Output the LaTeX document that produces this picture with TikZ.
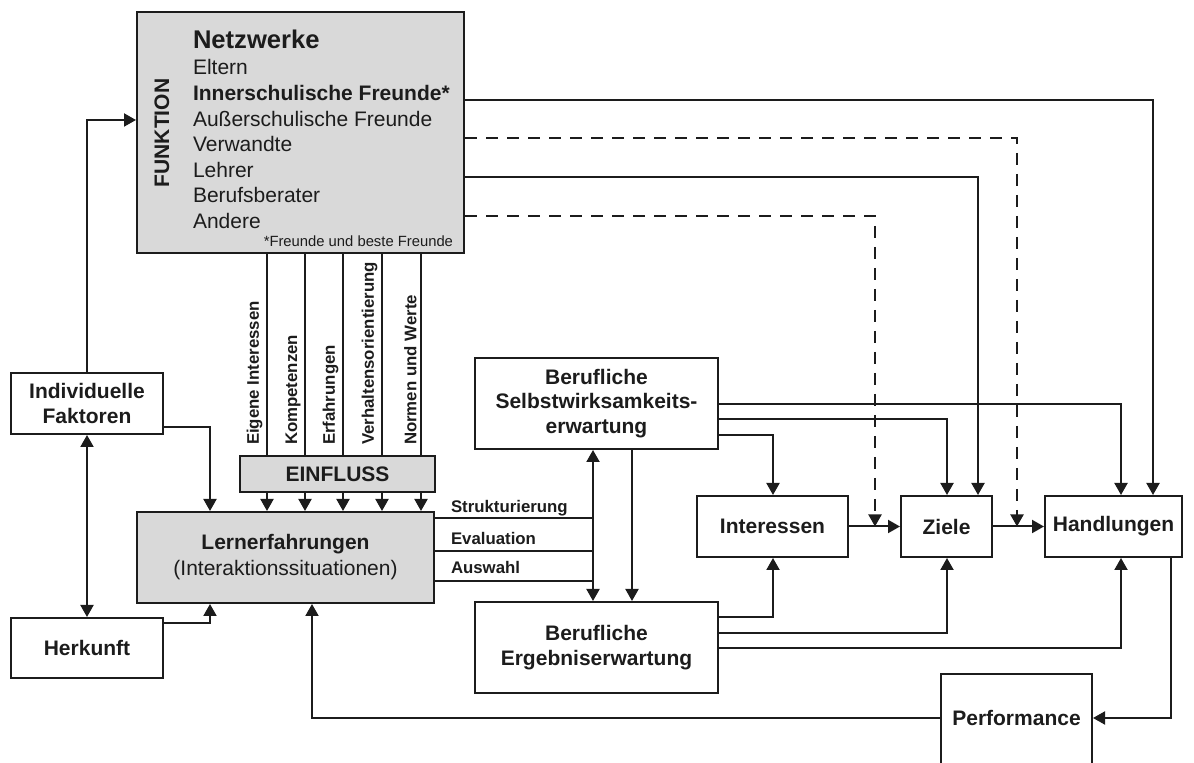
\documentclass[tikz,border=0pt]{standalone}
\usepackage{fontspec}
\setmainfont{Liberation Sans}
\usetikzlibrary{arrows.meta}
\definecolor{boxgray}{RGB}{217,217,217}
\definecolor{ink}{RGB}{28,28,28}
\newcommand\myB{\fontsize{10.5}{12.5}\selectfont\bfseries}
\newcommand\myR{\fontsize{10.5}{12.5}\selectfont}
\newcommand\myH{\fontsize{12.8}{15}\selectfont\bfseries}
\newcommand\myS{\fontsize{7.4}{9}\selectfont}
\newcommand\myV{\fontsize{8.4}{10}\selectfont\bfseries}
\begin{document}
\begin{tikzpicture}[x=0.5pt,y=-0.5pt,line width=1pt,draw=ink,text=ink,
  box/.style={draw,rectangle,inner sep=0pt,align=center,font=\myB},
  gbox/.style={box,fill=boxgray},
  lst/.style={anchor=base west,inner sep=0pt,font=\myR},
  arr/.style={-{Triangle[length=6pt,width=6.5pt]}},
  dblarr/.style={{Triangle[length=6pt,width=6.5pt]}-{Triangle[length=6pt,width=6.5pt]}},
  dsh/.style={dash pattern=on 6pt off 4.5pt}]
\useasboundingbox (0,0) rectangle (1194,763);
\clip (0,0) rectangle (1194,763);

% Netzwerke box
\node[gbox,minimum width=163.5pt,minimum height=120.5pt] (Netz) at (300.5,132.5) {};
\node[rotate=90,font=\myB,inner sep=0pt] (funk) at (162,133) {FUNKTION};
\node[anchor=base west,inner sep=0pt,font=\myH] (t0) at (192,49) {Netzwerke};
\node[lst] (t1) at (192,75) {Eltern};
\node[lst,font=\myB] (t2) at (192,101) {Innerschulische Freunde*};
\node[lst] (t3) at (192,126.5) {Außerschulische Freunde};
\node[lst] (t4) at (192,152) {Verwandte};
\node[lst] (t5) at (192,177.5) {Lehrer};
\node[lst] (t6) at (192,203) {Berufsberater};
\node[lst] (t7) at (192,228.5) {Andere};
\node[anchor=base east,inner sep=0pt,font=\myS] (fn) at (454,247) {*Freunde und beste Freunde};

% other boxes
\node[box,minimum width=76pt,minimum height=30.5pt] (Ind) at (87,403.5) {Individuelle\\Faktoren};
\node[box,minimum width=76pt,minimum height=30pt] (Herk) at (87,648) {Herkunft};
\node[gbox,minimum width=97.5pt,minimum height=18pt] (Einfl) at (337.5,474) {EINFLUSS};
\node[gbox,minimum width=148.5pt,minimum height=45.5pt,font=\fontsize{10.5}{13}\selectfont\bfseries] (Lern) at (285.5,557.5) {Lernerfahrungen\\{\mdseries (Interaktionssituationen)}};
\node[box,minimum width=121.5pt,minimum height=45.5pt,font=\fontsize{10.5}{12.25}\selectfont\bfseries] (Selb) at (596.5,403.5) {Berufliche\\Selbstwirksamkeits-\\erwartung};
\node[box,minimum width=121.5pt,minimum height=45.5pt] (Erg) at (596.5,647.5) {Berufliche\\Ergebniserwartung};
\node[box,minimum width=75.5pt,minimum height=30.5pt] (Int) at (772.5,526.5) {Interessen};
\node[box,minimum width=45.5pt,minimum height=30.5pt] (Ziele) at (946.5,526.5) {Ziele};
\node[box,minimum width=68.5pt,minimum height=30.5pt] (Hand) at (1113.5,526.5) {Handlungen};
\node[box,minimum width=75.5pt,minimum height=48pt] (Perf) at (1016.5,722) {};
\node[font=\myB,inner sep=0pt] (perfL) at (1016.5,718) {Performance};

% vertical labels
\foreach \x/\t in {267/Eigene Interessen,305/Kompetenzen,343/Erfahrungen,382/Verhaltensorientierung,421/Normen und Werte}{
  \node[rotate=90,anchor=south west,inner sep=0.5pt,font=\myV] (v\x) at (\x-2.5,447) {\t};
  \draw (Netz.south -| \x,0) -- (Einfl.north -| \x,0);
  \draw[arr] (Einfl.south -| \x,0) -- (Lern.north -| \x,0);
}

% left side connectors
\draw[arr] (Ind.north) |- (Netz.west |- 0,120);
\draw[dblarr] (Ind) -- (Herk);
\draw[arr] (Ind.east |- 0,427) -| (Lern.north -| 210,0);
\draw[arr] (Herk.east |- 0,623) -| (Lern.south -| 210,0);

% Lernerfahrungen to middle
\node[anchor=base west,inner sep=0pt,font=\myV] (ls) at (450,513) {Strukturierung};
\node[anchor=base west,inner sep=0pt,font=\myV] (le) at (450,545) {Evaluation};
\node[anchor=base west,inner sep=0pt,font=\myV] (la) at (450,574) {Auswahl};
\foreach \y in {518,551,581}{
  \draw (Lern.east |- 0,\y) -- (593,\y);
}
\draw[dblarr] (Selb.south -| 593,0) -- (Erg.north -| 593,0);
\draw[arr] (Selb.south -| 632,0) -- (Erg.north -| 632,0);

% Selbstwirksamkeit outputs
\draw[arr] (Selb.east |- 0,404) -| (Hand.north -| 1121,0);
\draw[arr] (Selb.east |- 0,419) -| (Ziele.north -| 947,0);
\draw[arr] (Selb.east |- 0,435) -| (Int.north -| 773,0);
% Ergebniserwartung outputs
\draw[arr] (Erg.east |- 0,617) -| (Int.south -| 773,0);
\draw[arr] (Erg.east |- 0,633) -| (Ziele.south -| 947,0);
\draw[arr] (Erg.east |- 0,648) -| (Hand.south -| 1121,0);

% chain
\draw[arr] (Int) -- (Ziele);
\draw[arr] (Ziele) -- (Hand);

% Netzwerke outputs
\draw[arr] (Netz.east |- 0,100) -| (Hand.north -| 1153,0);
\draw[arr,dsh] (Netz.east |- 0,138) -| (Ziele.east -| 1017,0);
\draw[arr] (Netz.east |- 0,177) -| (Ziele.north -| 978,0);
\draw[arr,dsh] (Netz.east |- 0,216) -| (Int.east -| 875,0);

% performance loop
\draw[arr] (Hand.south -| 1171,0) |- (Perf.east |- 0,718);
\draw[arr] (Perf.west |- 0,718) -| (Lern.south -| 312,0);
\end{tikzpicture}
\end{document}
